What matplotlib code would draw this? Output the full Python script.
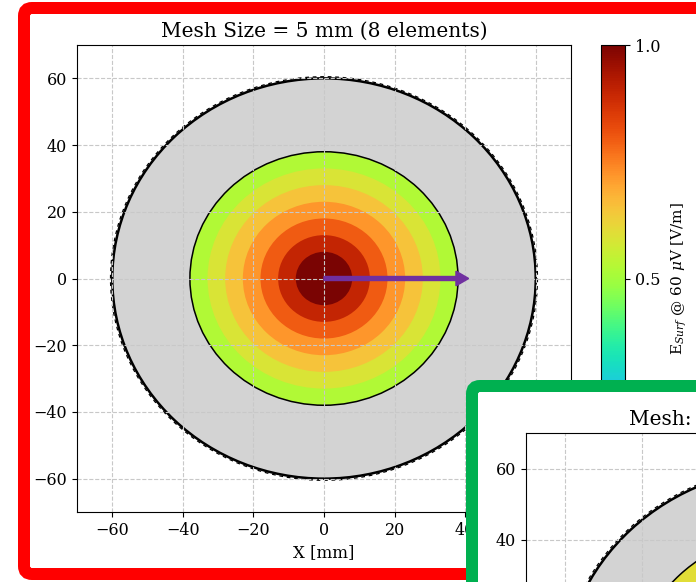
import numpy as np
import matplotlib.pyplot as plt
import matplotlib as mpl
from matplotlib.patches import Circle, FancyBboxPatch
from matplotlib.transforms import IdentityTransform

plt.rcParams["font.family"] = "serif"
plt.rcParams["font.serif"] = ["DejaVu Serif"]
plt.rcParams["mathtext.fontset"] = "dejavuserif"

# --- dados ---
ticks = [-60, -40, -20, 0, 20, 40, 60]
axis_lim = [-70, 70]
shell_radius = 60
band_radii = [38, 33, 28, 23, 18, 13, 8]
band_values = [0.52, 0.585, 0.65, 0.72, 0.8, 0.9, 1.0]
arrow_length = 41
cbar_ticks = [0.0, 0.5, 1.0]

# segundo painel (parcialmente visível)
shell_radius_2 = 60.5
band_radii_2 = [42.5, 37.5]
band_values_2 = [0.6, 0.66]
ticks_2 = [-60, -40, -20, 0, 20, 40, 60]

W, H = 696, 582
fig = plt.figure(figsize=(W / 100, H / 100), dpi=100)


def px(l, t, r, b):
    # retângulo em pixels (origem no topo) -> fração da figura
    return [l / W, 1 - b / H, (r - l) / W, (b - t) / H]


cmap = plt.get_cmap("turbo")
norm = mpl.colors.Normalize(vmin=0, vmax=1)
grid_kw = dict(color="#c8c8c8", linestyle="--", linewidth=0.8)


def draw_disk(ax, r_shell, radii, values):
    ax.add_patch(Circle((0, 0), r_shell, facecolor="#d3d3d3", edgecolor="none"))
    for r, v in zip(radii, values):
        ax.add_patch(Circle((0, 0), r, facecolor=cmap(norm(v)), edgecolor="none"))
    ax.add_patch(Circle((0, 0), radii[0], fill=False, edgecolor="k", linewidth=1.1))
    ax.add_patch(Circle((0, 0), r_shell, fill=False, edgecolor="k", linewidth=1.8))
    ax.add_patch(Circle((0, 0), r_shell + 0.5, fill=False, edgecolor="k",
                        linewidth=0.9, linestyle=(0, (3, 3))))


# moldura vermelha
fig.add_artist(FancyBboxPatch((24, 8), 720, 566,
                              boxstyle="round,pad=0,rounding_size=8",
                              transform=IdentityTransform(),
                              linewidth=12 * 0.72, edgecolor="#ff0000",
                              facecolor="white", zorder=-1))

# gráfico principal
ax = fig.add_axes(px(77, 45, 571, 512))
draw_disk(ax, shell_radius, band_radii, band_values)
ax.arrow(0, 0, arrow_length, 0, width=1.2, head_width=4.4, head_length=3.6,
         length_includes_head=True, color="#7030a0", zorder=3)
ax.set_xlim(axis_lim)
ax.set_ylim(axis_lim)
ax.set_xticks(ticks)
ax.set_yticks(ticks)
ax.grid(True, **grid_kw)
ax.tick_params(labelsize=11.5)
ax.set_xlabel("X [mm]", fontsize=12)
ax.set_title("Mesh Size = 5 mm (8 elements)", fontsize=14.5)

cax = fig.add_axes(px(601, 45, 625, 512))
cb = fig.colorbar(mpl.cm.ScalarMappable(norm=norm, cmap=cmap), cax=cax)
cb.set_ticks(cbar_ticks)
cb.ax.tick_params(labelsize=11.5)
cb.set_label(r"E$_{Surf}$ @ 60 $\mu$V [V/m]", fontsize=11, labelpad=7)

# moldura verde com o segundo gráfico
fig.add_artist(FancyBboxPatch((472, -60), 400, 256,
                              boxstyle="round,pad=0,rounding_size=8",
                              transform=IdentityTransform(),
                              linewidth=12 * 0.72, edgecolor="#00b050",
                              facecolor="white", zorder=5))

ax2 = fig.add_axes(px(526, 433, 1065, 930))
ax2.set_zorder(6)
draw_disk(ax2, shell_radius_2, band_radii_2, band_values_2)
ax2.set_xlim(axis_lim)
ax2.set_ylim(axis_lim)
ax2.set_xticks(ticks_2)
ax2.set_yticks(ticks_2)
ax2.grid(True, **grid_kw)
ax2.tick_params(labelsize=11.5)
ax2.set_title("Mesh: 2.5 mm (16 elements)", fontsize=14.5,
              x=(629 - 526) / 539, ha="left")

fig.savefig("out.png", dpi=100)
